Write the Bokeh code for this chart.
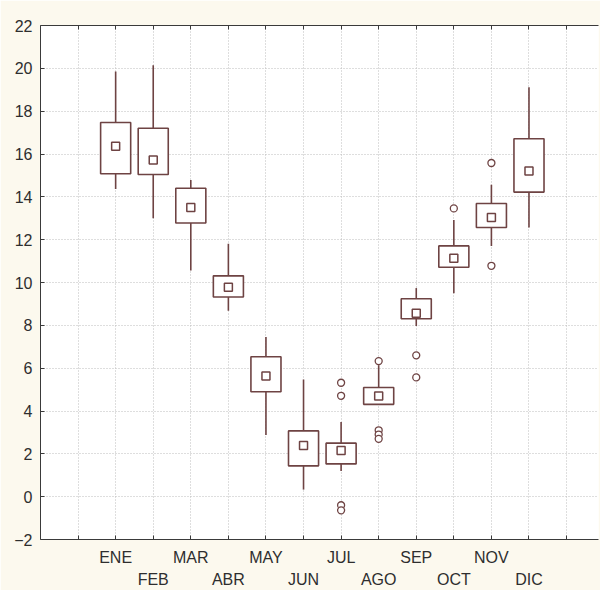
from bokeh.plotting import figure
from bokeh.models import (Range1d, LinearAxis, FixedTicker, ColumnDataSource)
from bokeh.embed import file_html
from bokeh.resources import INLINE

# ---- data ----
months = ["ENE", "FEB", "MAR", "ABR", "MAY", "JUN", "JUL", "AGO", "SEP", "OCT", "NOV", "DIC"]
pos = [2, 3, 4, 5, 6, 7, 8, 9, 10, 11, 12, 13]
whisk_hi = [19.85, 20.14, 14.79, 11.81, 7.46, 5.47, 3.49, 6.14, 9.74, 12.92, 14.56, 19.12]
box_hi = [17.47, 17.20, 14.40, 10.31, 6.53, 3.07, 2.50, 5.10, 9.24, 11.71, 13.69, 16.71]
center = [16.36, 15.72, 13.50, 9.78, 5.64, 2.39, 2.15, 4.70, 8.57, 11.13, 13.04, 15.21]
box_lo = [15.08, 15.04, 12.78, 9.32, 4.90, 1.44, 1.53, 4.31, 8.31, 10.71, 12.57, 14.22]
whisk_lo = [14.36, 13.00, 10.56, 8.68, 2.88, 0.33, 1.20, 4.28, 7.97, 9.50, 11.71, 12.57]
out_month = ["JUL", "JUL", "JUL", "JUL", "AGO", "AGO", "AGO", "AGO", "SEP", "SEP", "OCT", "NOV", "NOV"]
out_value = [5.32, 4.71, -0.40, -0.64, 6.33, 3.10, 2.90, 2.70, 6.60, 5.57, 13.46, 15.58, 10.78]
y_ticks = [-2, 0, 2, 4, 6, 8, 10, 12, 14, 16, 18, 20, 22]
x_grid = [1, 2, 3, 4, 5, 6, 7, 8, 9, 10, 11, 12, 13, 14]

col = "#6e4343"
txt = "#2e2e2e"
font = "Liberation Sans"

src = ColumnDataSource(dict(x=pos, hi=whisk_hi, bhi=box_hi, c=center, blo=box_lo, lo=whisk_lo))
mpos = dict(zip(months, pos))
osrc = ColumnDataSource(dict(x=[mpos[m] for m in out_month], y=out_value))

p = figure(width=600, height=590, output_backend="svg", toolbar_location=None,
           x_range=Range1d(0, 14.85), y_range=Range1d(-2, 22),
           x_axis_location=None, y_axis_location=None,
           min_border_left=40, min_border_right=2, min_border_top=25, min_border_bottom=50)
p.background_fill_color = "white"
p.border_fill_color = "#fcf9ee"
p.outline_line_color = None

# axes
yax = LinearAxis(ticker=FixedTicker(ticks=y_ticks))
xax1 = LinearAxis(ticker=FixedTicker(ticks=x_grid))
ov1 = {t: "" for t in x_grid}
ov1.update({pos[i]: months[i] for i in range(0, 12, 2)})
xax1.major_label_overrides = ov1
xax2 = LinearAxis(ticker=FixedTicker(ticks=pos[1::2]))
xax2.major_label_overrides = {pos[i]: months[i] for i in range(1, 12, 2)}
top = LinearAxis(ticker=FixedTicker(ticks=x_grid))

for ax in (yax, xax1, xax2, top):
    ax.major_label_text_font = font
    ax.major_label_text_font_size = "16px"
    ax.major_label_text_color = txt
    ax.minor_tick_line_color = None
    ax.major_tick_in = 4
    ax.major_tick_out = 0
    ax.axis_line_color = "#3a3a3a"
    ax.major_tick_line_color = "#3a3a3a"
xax2.axis_line_color = None
xax2.major_tick_line_color = None
top.major_label_text_alpha = 0
top.major_label_text_font_size = "1px"
yax.major_label_standoff = 8
xax1.major_label_standoff = 9
xax2.major_label_standoff = 2
top.major_label_standoff = 0

p.add_layout(yax, "left")
p.add_layout(xax1, "below")
p.add_layout(xax2, "below")
p.add_layout(top, "above")

p.xgrid.ticker = FixedTicker(ticks=x_grid)
p.ygrid.ticker = FixedTicker(ticks=y_ticks)
for g in (p.xgrid, p.ygrid):
    g.grid_line_color = "#bdbdbd"
    g.grid_line_dash = "1 2"
    g.grid_line_width = 1

# whiskers
p.segment(x0="x", y0="lo", x1="x", y1="hi", source=src, line_color=col, line_width=1.6)
p.rect(x="x", y="hi", width=0.56, height=0, source=src, line_color=col, line_width=1.6)
p.rect(x="x", y="lo", width=0.56, height=0, source=src, line_color=col, line_width=1.6)
# boxes
p.vbar(x="x", width=0.8, bottom="blo", top="bhi", source=src,
       fill_color="white", line_color=col, line_width=1.6)
# center markers
p.scatter(x="x", y="c", source=src, marker="square", size=8, fill_color="white",
          line_color=col, line_width=1.5)
# outliers
p.scatter(x="x", y="y", source=osrc, marker="circle", size=7, fill_color="white",
          line_color=col, line_width=1.3)

open("out.html", "w").write(file_html(p, INLINE))
